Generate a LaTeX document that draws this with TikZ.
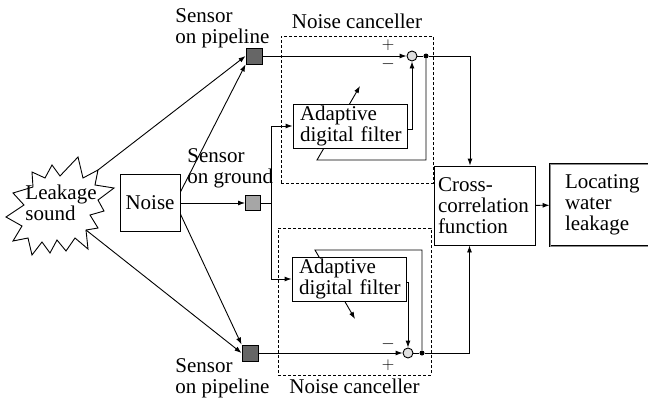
\documentclass[tikz,border=0pt]{standalone}
\usepackage{fontspec}
\setmainfont{Liberation Serif}
\usepackage{tikz}
\usetikzlibrary{arrows.meta, positioning}

\begin{document}
\begin{tikzpicture}[
  x=1pt, y=-1pt,
  font=\fontsize{21}{21}\selectfont,
  line width=0.9pt,
  box/.style={draw, fill=white, inner sep=0pt, align=left},
  sensor/.style={draw, fill=black!60, minimum size=16pt, inner sep=0pt},
  sum/.style={draw, circle, fill=black!12, minimum size=10pt, inner sep=0pt},
  dot/.style={circle, fill, minimum size=5pt, inner sep=0pt},
  canceller/.style={draw, dash pattern=on 3pt off 2pt, line width=0.6pt, inner sep=0pt},
  lbl/.style={align=left, inner sep=0pt},
  sign/.style={inner sep=0pt, font=\fontsize{16}{16}\selectfont},
  arrow/.style={-{Latex[length=7pt, width=5pt]}}
]
\useasboundingbox (0,0) rectangle (648,402);

% Leakage star
\draw[line join=miter] (52,165) -- (60,176) -- (78,157) -- (83,178) -- (98,170) coordinate (leakne)
  -- (95,185) -- (114,188) -- (98,200) -- (104,211) -- (90,215) -- (98,228) -- (86,230) coordinate (leakse)
  -- (88,249) -- (75,238) -- (66,251) -- (57,240) -- (50,253) -- (42,242) -- (32,255)
  -- (28,238) -- (13,241) -- (22,226) -- (6,217) -- (24,205) -- (13,193) -- (33,187)
  -- (32,172) -- (45,178) -- cycle;

% Nodes
\node[lbl, anchor=west] (leak) at (25,203) {Leakage\\sound};
\node[box, align=center, minimum width=60pt, minimum height=57pt] (noise) at (150,203) {Noise};

\node[sensor] (sensor1) at (254,56) {};
\node[sensor, fill=black!35, minimum size=15pt] (sensor2) at (253,203) {};
\node[sensor] (sensor3) at (250,353) {};
\node[lbl, anchor=north west] (lbl1) at (175,8) {Sensor\\on pipeline};
\node[lbl, anchor=north west] (lbl2) at (187,148) {Sensor\\on ground};
\node[lbl, anchor=north west] (lbl3) at (175,358) {Sensor\\on pipeline};

\node[canceller, minimum width=152pt, minimum height=147pt] (canc1) at (357,109.5) {};
\node[canceller, minimum width=153pt, minimum height=147pt] (canc2) at (354.5,301.5) {};
\node[lbl, above=7pt of canc1] (canctext1) {Noise canceller};
\node[lbl, below=3pt of canc2] (canctext2) {Noise canceller};

\node[sum] (sum1) at (412,56) {};
\node[dot] (dot1) at (426,56) {};
\node[sum] (sum2) at (408,353) {};
\node[dot] (dot2) at (422,353) {};
\node[sign] (plus1) at (388,45) {$+$};
\node[sign] (minus1) at (388,64) {$-$};
\node[sign] (minus2) at (388,344) {$-$};
\node[sign] (plus2) at (388,365) {$+$};

\coordinate (split) at (271,203);
\coordinate (adapt1in) at (317,160);
\coordinate (adapt1out) at (360,86);
\coordinate (adapt2in) at (315,250);
\coordinate (adapt2out) at (355,319);

% adaptation paths, behind the filters
\draw[arrow] (dot1) |- (adapt1in) -- (adapt1out);
\draw[arrow] (dot2) |- (adapt2in) -- (adapt2out);

\node[box, text width=100pt, inner xsep=7pt, minimum height=44pt] (filter1) at (350,126) {Adaptive\\\mbox{digital filter}};
\node[box, text width=100pt, inner xsep=7pt, minimum height=44pt] (filter2) at (349,279) {Adaptive\\\mbox{digital filter}};

\node[box, text width=93pt, inner xsep=4pt, minimum height=79pt] (cross) at (484.5,205.5) {Cross-\\correlation\\function};
\node[box, double=black!45, double distance=1pt, text width=110pt,
      inner xsep=15pt, minimum height=82pt] (locate) at (620,205) {Locating\\water\\leakage};

% Pointers
\draw[arrow] (leakne) -- (sensor1.west);
\draw[arrow] (noise.20) -- (sensor1.south west);
\draw[arrow] (noise) -- (sensor2);
\draw[arrow] (leakse) -- (sensor3.west);
\draw[arrow] (noise.-20) -- (sensor3.north west);

\draw (sensor2) -- (split);
\draw[arrow] (split) |- (filter1);
\draw[arrow] (split) |- (filter2);

\draw[arrow] (sensor1) -- (sum1);
\draw[arrow] ([yshift=-3pt]filter1.east) -| (sum1);
\draw (sum1) -- (dot1);
\draw[arrow] (dot1) -| ([xshift=-14.5pt]cross.north);

\draw[arrow] (sensor3) -- (sum2);
\draw[arrow] ([yshift=-3pt]filter2.east) -| (sum2);
\draw (sum2) -- (dot2);
\draw[arrow] (dot2) -| ([xshift=-15pt]cross.south);

\draw[arrow] (cross) -- (locate);
\end{tikzpicture}
\end{document}
